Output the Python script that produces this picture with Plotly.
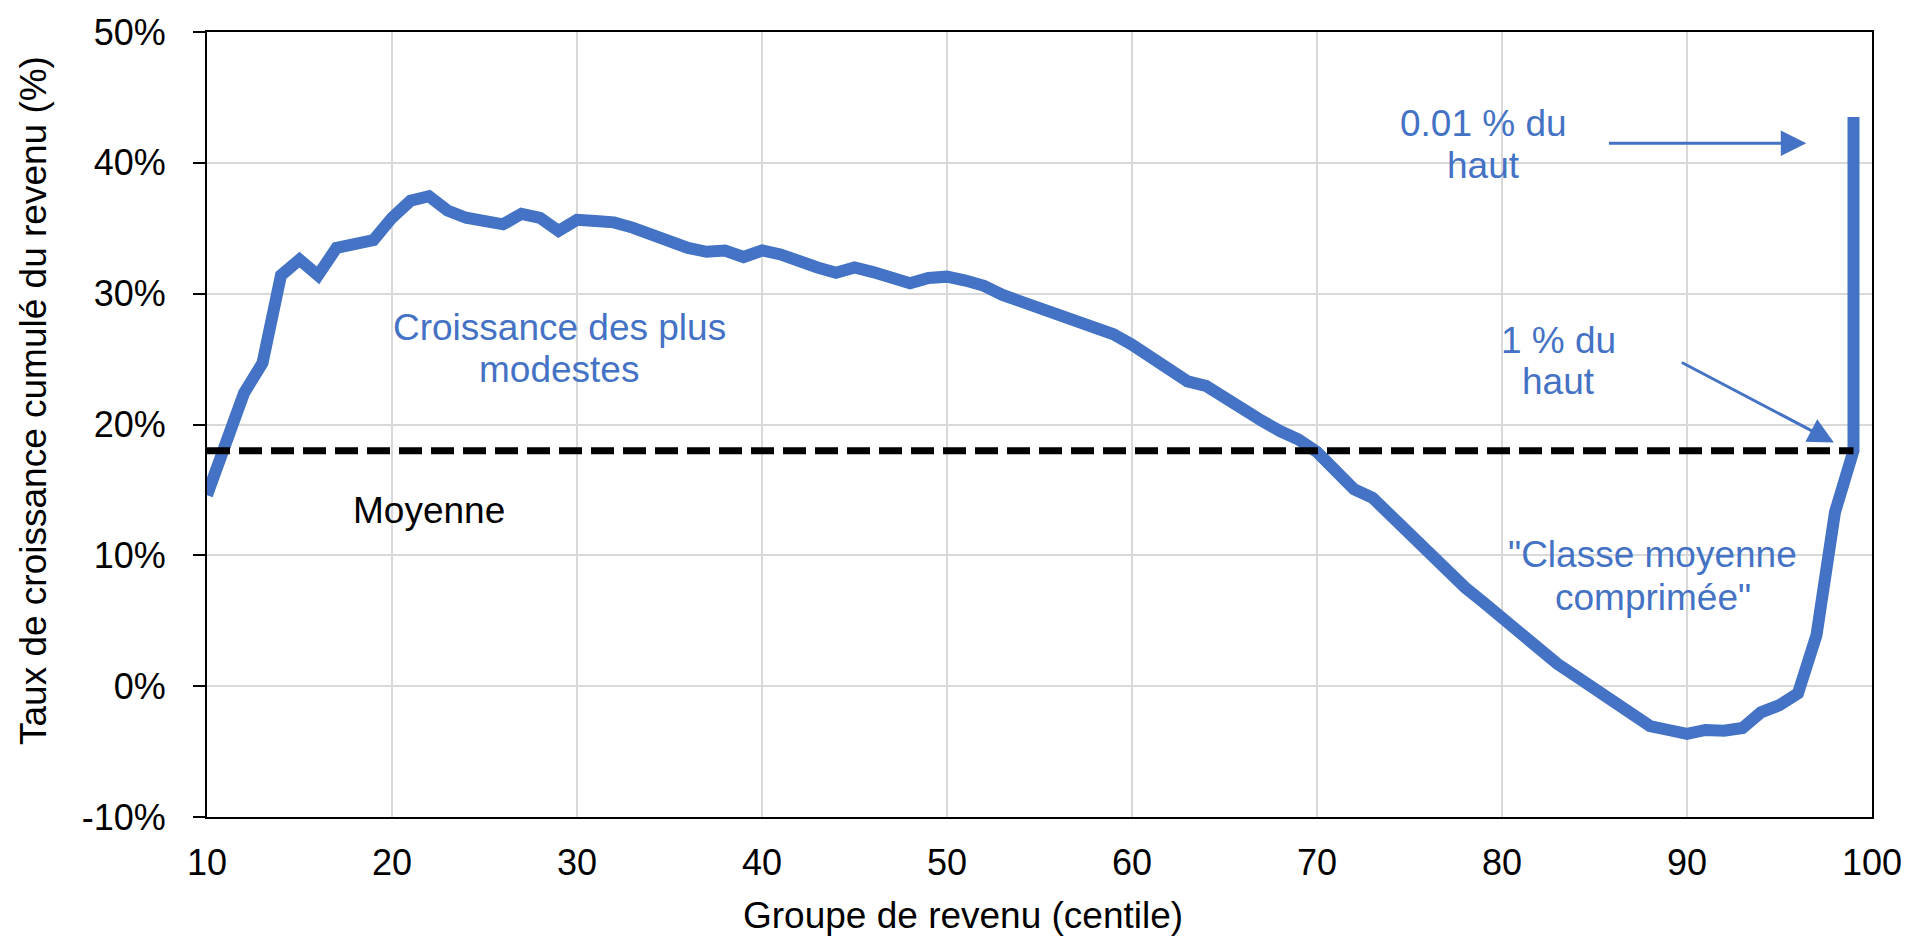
import plotly.graph_objects as go

# ---------------- data ----------------
centiles = list(range(10, 100)) + [99]
growth = [
    14.6, 18.2, 22.4, 24.7, 31.4, 32.6, 31.4, 33.5, 33.9, 34.1,   # 10-19
    35.8, 37.1, 37.45, 36.35, 35.8, 35.6, 35.3, 36.1, 35.8, 34.8,  # 20-29
    35.65, 35.55, 35.45, 35.05, 34.5, 33.95, 33.5, 33.2, 33.3, 32.8,  # 30-39
    33.3, 33.0, 32.45, 32.0, 31.6, 32.0, 31.65, 31.15, 30.8, 31.2,  # 40-49
    31.3, 31.0, 30.6, 29.9, 29.4, 28.9, 28.5, 27.9, 27.35, 26.9,    # 50-59
    26.1, 25.15, 24.1, 23.3, 22.95, 22.0, 21.3, 20.3, 19.5, 18.85,  # 60-69
    17.9, 16.6, 15.05, 14.4, 13.0, 11.7, 10.35, 8.7, 7.55, 6.4,     # 70-79
    5.2, 3.8, 2.8, 1.7, 0.75, -0.2, -1.3, -2.3, -3.05, -3.35,       # 80-89
    -3.65, -3.35, -3.4, -3.2, -2.0, -1.45, -0.55, 3.9, 13.3, 18.0,  # 90-99
    43.5,                                                         # top 0.01 %
]
mean_x = [10, 99]
mean_y = [18, 18]

x_ticks = [10, 20, 30, 40, 50, 60, 70, 80, 90, 100]
y_ticks = [-10, 0, 10, 20, 30, 40, 50]

x_title = "Groupe de revenu (centile)"
y_title = "Taux de croissance cumulé du revenu (%)"

# (text, x, y, colour key)
labels = [
    ("Croissance des plus", 29.04, 27.38, "blue"),
    ("modestes", 29.04, 24.2, "blue"),
    ("Moyenne", 22.0, 13.4, "black"),
    ("\"Classe moyenne", 88.16, 10.03, "blue"),
    ("comprimée\"", 88.16, 6.78, "blue"),
    ("0.01 % du", 79.0, 43.04, "blue"),
    ("haut", 79.0, 39.83, "blue"),
    ("1 % du", 83.04, 26.45, "blue"),
    ("haut", 83.04, 23.25, "blue"),
]
# (tail x, tail y, head x, head y)
arrows = [
    (85.7, 41.5, 96.45, 41.5),
    (89.64, 24.8, 97.94, 18.63),
]

# ---------------- style ----------------
BLUE = "#4472C4"
GRID = "#D9D9D9"
FONT = "Liberation Sans, Arial, sans-serif"
COLORS = {"blue": BLUE, "black": "black"}

fig = go.Figure()
fig.add_trace(go.Scatter(
    x=centiles, y=growth, mode="lines",
    line=dict(color=BLUE, width=12), hoverinfo="skip",
))
fig.add_trace(go.Scatter(
    x=mean_x, y=mean_y, mode="lines",
    line=dict(color="black", width=7, dash="23px,9px"), hoverinfo="skip",
))

fig.update_layout(
    width=1928, height=936,
    margin=dict(l=207, r=56, t=24, b=119),
    plot_bgcolor="white", paper_bgcolor="white",
    showlegend=False,
    font=dict(family=FONT, size=36, color="black"),
)
fig.update_xaxes(
    range=[10, 100], tickvals=x_ticks, ticktext=[str(v) for v in x_ticks],
    showgrid=True, gridcolor=GRID, gridwidth=2,
    showline=True, linecolor="black", linewidth=2, mirror=True,
    ticks="", zeroline=False, tickfont=dict(size=36), ticklabelstandoff=13,
)
fig.update_yaxes(
    range=[-10, 50], tickvals=y_ticks, ticktext=[f"{v}%" for v in y_ticks],
    showgrid=True, gridcolor=GRID, gridwidth=2,
    showline=True, linecolor="black", linewidth=2, mirror=True,
    ticks="outside", ticklen=12, tickwidth=2, tickcolor="black",
    zeroline=False, tickfont=dict(size=36), ticklabelstandoff=20,
)

for text, x, y, c in labels:
    fig.add_annotation(
        x=x, y=y, xref="x", yref="y", text=text, showarrow=False,
        xanchor="center", yanchor="middle",
        font=dict(family=FONT, size=37, color=COLORS[c]),
    )

for tx, ty, hx, hy in arrows:
    fig.add_annotation(
        x=hx, y=hy, ax=tx, ay=ty, xref="x", yref="y", axref="x", ayref="y",
        text="", showarrow=True, arrowhead=2, arrowsize=1.7, arrowwidth=3,
        arrowcolor=BLUE, standoff=0,
    )

fig.add_annotation(
    x=0.4542, y=-0.1261, xref="paper", yref="paper", text=x_title,
    showarrow=False, xanchor="center", yanchor="middle",
    font=dict(family=FONT, size=37, color="black"),
)
fig.add_annotation(
    x=-0.1046, y=0.531, xref="paper", yref="paper", text=y_title,
    showarrow=False, xanchor="center", yanchor="middle", textangle=-90,
    font=dict(family=FONT, size=37, color="black"),
)

fig.write_html(
    "out.html",
    config={"displayModeBar": False},
    post_script="document.body.style.margin='0';document.body.style.overflow='hidden';",
)
